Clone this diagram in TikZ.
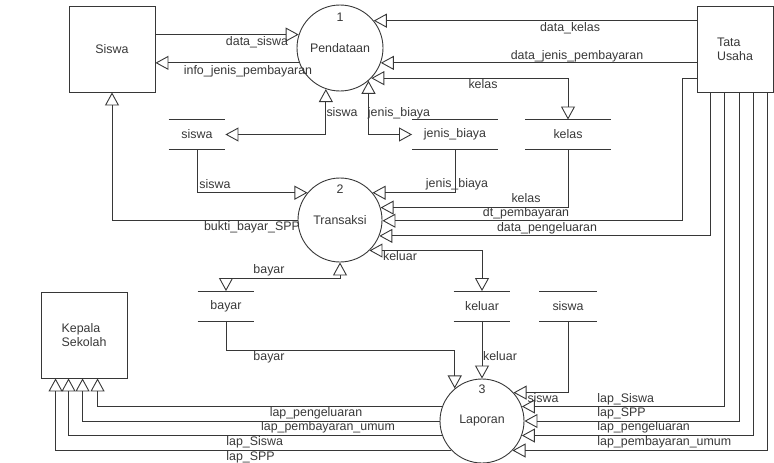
\documentclass[tikz,border=0pt]{standalone}
\usepackage{fontspec}
\setmainfont{Liberation Sans}
\usetikzlibrary{arrows.meta}
\definecolor{linec}{RGB}{55,55,55}

\begin{document}
\begin{tikzpicture}[x=1pt, y=-1pt, color=linec, line width=0.9pt,
  font=\fontsize{12.4}{14}\selectfont,
  >={Triangle[open, length=13pt, width=14pt]},
  entity/.style={draw, minimum width=86pt, minimum height=86pt, align=left},
  process/.style={draw, circle, minimum size=86pt, inner sep=0pt},
  store/.style={minimum height=29pt, inner sep=0pt,
    append after command={(\tikzlastnode.north west) edge (\tikzlastnode.north east)
      (\tikzlastnode.south west) edge (\tikzlastnode.south east)}},
  lbl/.style={inner sep=0pt, text height=8pt, text depth=2pt}]
\useasboundingbox (0,0) rectangle (774,463);

% Entities
\node[entity] (siswa) at (112,49) {Siswa};
\node[entity, minimum width=76pt] (tatausaha) at (735,49) {Tata\\Usaha};
\node[entity] (kepsek) at (84,335) {Kepala\\Sekolah};

% Processes
\node[process] (pendataan) at (340,48) {Pendataan};
\node[process, minimum size=84pt] (transaksi) at (340,220) {Transaksi};
\node[process, minimum size=84pt] (laporan) at (482,421) {Laporan};
\node (no1) at (340,17) {1};
\node (no2) at (340,189) {2};
\node (no3) at (482,389) {3};

% Data stores
\node[store, minimum width=56pt] (dssiswa) at (197,134.5) {siswa};
\node[store, minimum width=85pt] (dsjenis) at (455,134.5) {jenis\_biaya};
\node[store, minimum width=85pt] (dskelas) at (568,134.5) {kelas};
\node[store, minimum width=56pt] (dsbayar) at (226,306) {bayar};
\node[store, minimum width=56pt] (dskeluar) at (482,306) {keluar};
\node[store, minimum width=57pt] (dssiswab) at (568,306) {siswa};

% Pendataan flows
\draw[->] (siswa.east |- pendataan.162) -- (pendataan.162);
\draw[->] (pendataan.200) -- (siswa.east |- pendataan.200);
\draw[->] (tatausaha.west |- pendataan.39) -- (pendataan.39);
\draw[->] (tatausaha.west |- pendataan.-20) -- (pendataan.-20);
\draw[<->] (dskelas.north) |- (pendataan.-44);
\draw[<->] (pendataan.-109) |- (dssiswa.east);
\draw[<->] (pendataan.-49) |- (dsjenis.west);

% Transaksi flows
\draw[->] (dssiswa.south) |- (transaksi.140);
\draw[->] (dsjenis.south) |- (transaksi.40);
\draw[->] (dskelas.south) |- (transaksi.17);
\draw[->] ([yshift=-29pt]tatausaha.west) -- ++(-14,0) |- (transaksi.-1);
\draw[->] ([xshift=14pt]tatausaha.south west) |- (transaksi.-22);
\draw[<->] (dskeluar.north) |- (transaksi.-46);
\draw[->] (transaksi.180) -| (siswa.south);
\draw[<->] (dsbayar.north) |- ([yshift=-16pt]transaksi.south) -- (transaksi.south);

% Laporan flows
\draw[->] (dsbayar.south) -- ++(0,29) -| (laporan.130);
\draw[->] (dskeluar.south) -- (laporan.north);
\draw[->] (dssiswab.south) |- (laporan.42);
\draw[->] ([xshift=28pt]tatausaha.south west) |- (laporan.20);
\draw[->] ([xshift=43pt]tatausaha.south west) |- (laporan.0);
\draw[->] ([xshift=57pt]tatausaha.south west) |- (laporan.-20);
\draw[->] ([xshift=71pt]tatausaha.south west) |- (laporan.-44);
\draw[->] (laporan.160) -| ([xshift=57pt]kepsek.south west);
\draw[->] (laporan.180) -| ([xshift=42pt]kepsek.south west);
\draw[->] (laporan.200) -| ([xshift=28pt]kepsek.south west);
\draw[->] (laporan.224) -| ([xshift=15pt]kepsek.south west);

% Flow labels
\node[lbl] (l1) at (257,42) {data\_siswa};
\node[lbl] (l2) at (248,71) {info\_jenis\_pembayaran};
\node[lbl] (l3) at (570,28) {data\_kelas};
\node[lbl] (l4) at (577,56) {data\_jenis\_pembayaran};
\node[lbl] (l5) at (483,85) {kelas};
\node[lbl] (l6) at (342,113) {siswa};
\node[lbl] (l7) at (399,113) {jenis\_biaya};
\node[lbl] (l8) at (215,185) {siswa};
\node[lbl] (l9) at (457,184) {jenis\_biaya};
\node[lbl] (l10) at (526,199) {kelas};
\node[lbl] (l11) at (526,213) {dt\_pembayaran};
\node[lbl] (l12) at (547,228) {data\_pengeluaran};
\node[lbl] (l13) at (400,257) {keluar};
\node[lbl] (l14) at (252,227) {bukti\_bayar\_SPP};
\node[lbl] (l15) at (269,270) {bayar};
\node[lbl] (l16) at (269,357) {bayar};
\node[lbl] (l17) at (500,357) {keluar};
\node[lbl] (l18) at (543,399) {siswa};
\node[lbl, anchor=west] (l19) at (597,399) {lap\_Siswa};
\node[lbl, anchor=west] (l20) at (597,413) {lap\_SPP};
\node[lbl, anchor=west] (l21) at (597,427) {lap\_pengeluaran};
\node[lbl, anchor=west] (l22) at (597,442) {lap\_pembayaran\_umum};
\node[lbl] (l23) at (316,413) {lap\_pengeluaran};
\node[lbl] (l24) at (328,427) {lap\_pembayaran\_umum};
\node[lbl, anchor=west] (l25) at (226,442) {lap\_Siswa};
\node[lbl, anchor=west] (l26) at (226,457) {lap\_SPP};
\end{tikzpicture}
\end{document}
